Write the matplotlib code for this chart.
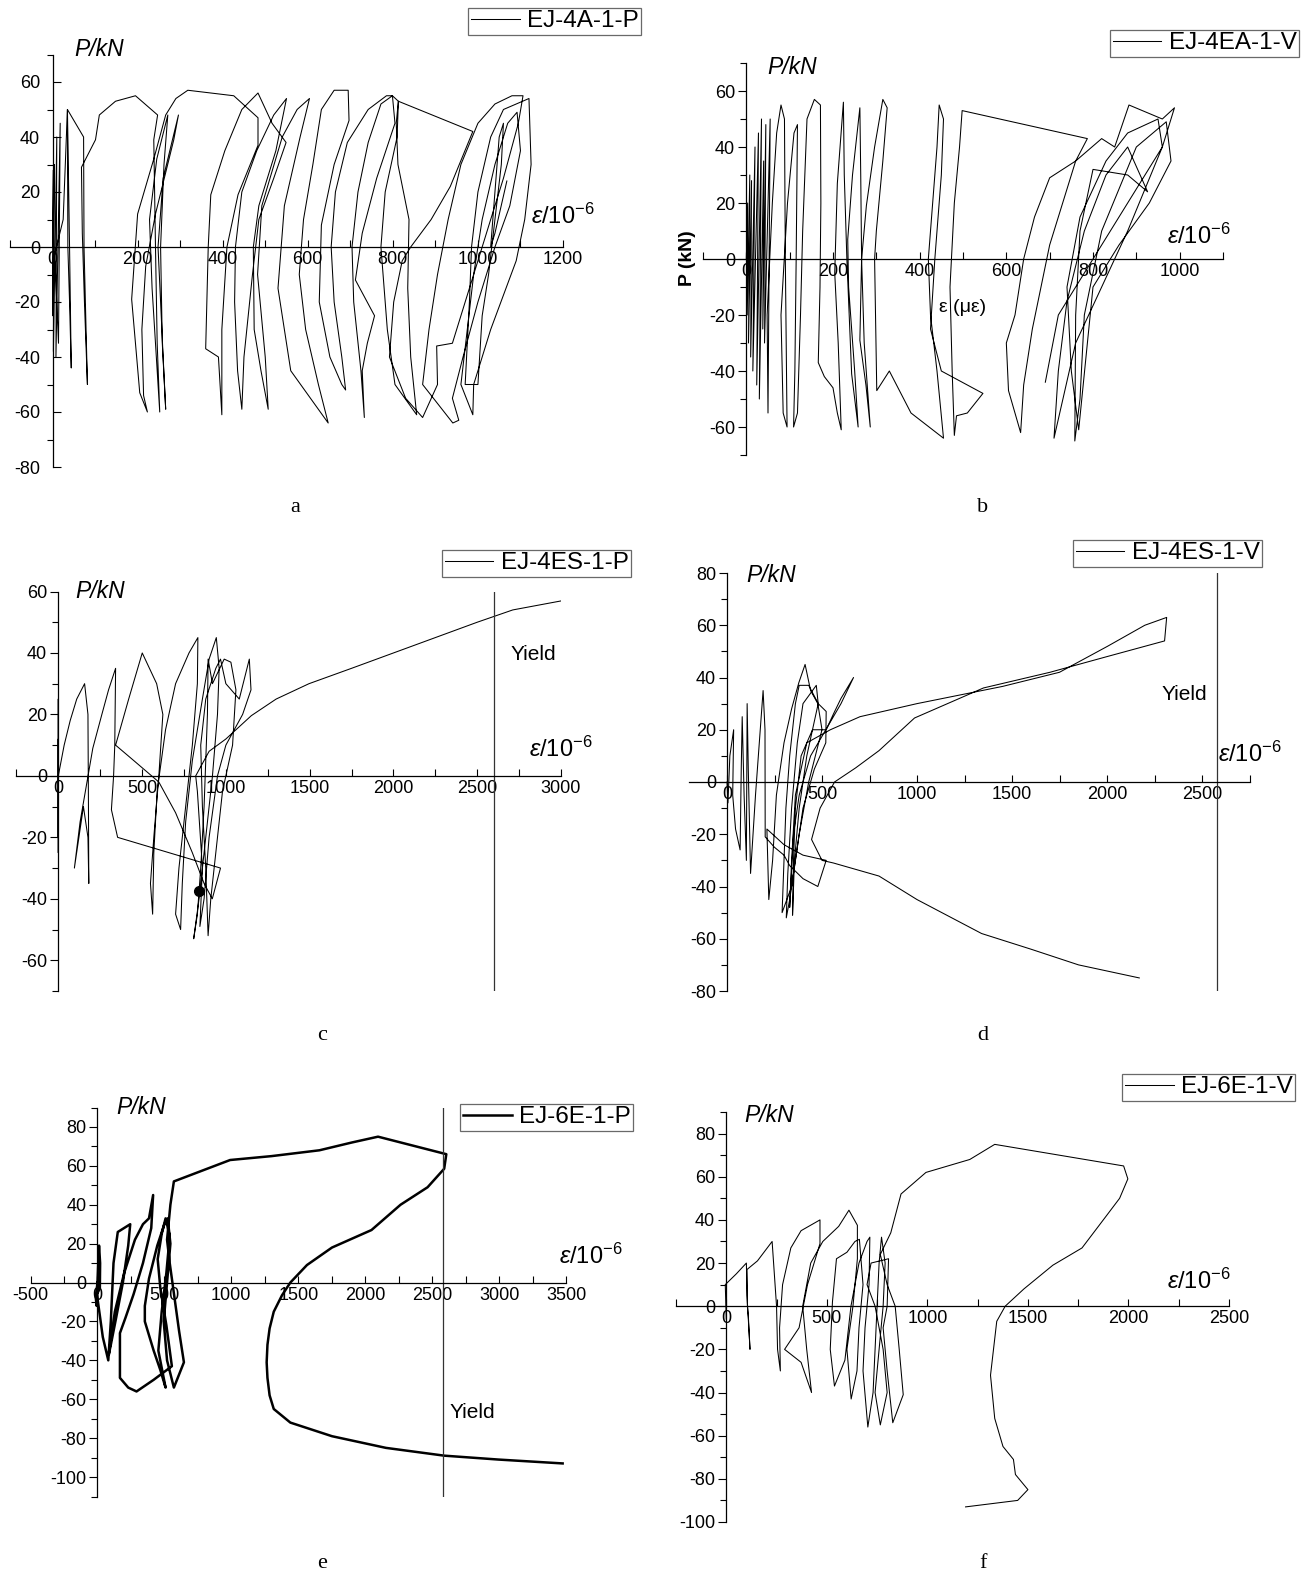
import matplotlib
matplotlib.use('Agg')
import matplotlib.pyplot as plt
from matplotlib.ticker import MultipleLocator

W, H = 1305, 1576
plt.rcParams['font.family'] = ['Liberation Sans', 'DejaVu Sans']
plt.rcParams['mathtext.fontset'] = 'custom'
plt.rcParams['mathtext.rm'] = 'Liberation Sans'
plt.rcParams['mathtext.it'] = 'Liberation Sans:italic'
plt.rcParams['axes.unicode_minus'] = False

# ---------------- data (strain in 1e-6, load in kN) ----------------
A_PTS = [(0,0),(2,28),(0,-25),(4,30),(2,-38),(10,40),(8,-40),(18,45),(14,-35),(6,-6),(3,-4),
         (25,10),(35,50),(40,0),(44,-44),(40,-20),(36,0),(35,50),(73,40),(74,0),(82,-50),
         (75,-20),(70,5),(68,29),(101,39),(110,48),(148,53),(195,55),(247,48),(238,39),(242,0),(246,-35),(252,-60),
         (244,-40),(234,-15),(228,10),(245,32),(271,48),(262,30),(254,0),(258,-35),(266,-59),
         (260,-40),(248,0),(260,25),(296,48),(285,39),(242,12),(219,-7),(210,-30),(214,-54),(223,-60),
         (205,-53),(186,-19),(200,12),(238,32),(266,48),(290,54),(318,57),(426,55),(483,47),(483,37),(436,19),(410,0),(398,-30),(398,-61),
         (390,-40),(360,-37),(366,0),(372,19),(405,35),(445,50),(483,56),(516,45),(549,38),(520,25),(485,10),(470,-10),(450,-40),(445,-59),
         (435,-45),(428,-20),(430,0),(445,20),(480,35),(520,48),(550,54),(525,35),(485,15),(472,0),(474,-30),(490,-45),(507,-59),
         (500,-40),(482,-10),(492,15),(540,40),(575,50),(604,54),(582,40),(545,15),(530,-15),(560,-45),(648,-64),
         (625,-50),(595,-30),(580,-10),(590,10),(612,30),(632,50),(662,57),(695,57),(697,46),(662,30),(632,8),(627,-20),(652,-40),(680,-50),(689,-52),
         (680,-40),(662,-20),(655,0),(665,20),(693,38),(742,50),(785,55),(799,55),(805,45),(762,25),(728,5),(712,-12),(757,-25),(740,-35),(728,-45),(733,-62),
         (725,-45),(708,-20),(704,0),(718,20),(742,38),(772,52),(799,55),(813,53),(810,40),(782,20),(772,0),(787,-30),(805,-50),(856,-61),
         (842,-40),(835,-15),(838,10),(812,30),(808,45),(813,53),(988,42),(935,22),(890,10),(842,0),(822,-5),(802,-20),(792,-40),(830,-55),
         (870,-62),(905,-50),(903,-36),(940,-35),(980,-15),(1020,5),(1060,25),(1095,45),(1106,55),(1080,55),(1040,52),(1000,45),(960,30),
         (930,10),(905,-10),(885,-30),(870,-50),(941,-64),(955,-63),(940,-55),(965,-40),(1000,-20),(1040,0),(1075,15),(1100,35),(1092,49),
         (1070,45),(1040,30),(1010,10),(990,-10),(975,-30),(960,-50),(988,-61),(990,-50),(1030,-30),(1090,-5),(1110,10),(1125,30),(1120,54),
         (1060,50),(1030,40),(1000,20),(985,0),(980,-20),(970,-50),(1000,-50),(1010,-25),(1025,-10),(1040,10),(1055,30),(1060,45),
         (1050,40),(1040,20),(1030,0),(1040,5),(1068,24)]

B_PTS = [(0,0),(3,20),(2,-20),(8,30),(5,-30),(12,28),(10,-35),(20,40),(15,-40),(28,45),(24,-45),(35,50),(30,-50),(40,35),
         (38,-25),(45,48),(42,-30),(55,50),(50,-55),(48,-20),(60,20),(70,45),(80,55),(88,50),(90,0),(94,-60),(85,-55),(80,-20),
         (95,20),(110,45),(118,48),(115,0),(112,-40),(109,-60),(118,-55),(125,-20),(130,10),(135,30),(140,50),(157,57),(171,55),
         (172,20),(170,-10),(166,-37),(180,-42),(200,-46),(210,-55),(219,-61),(212,-30),(204,-5),(210,27),(224,56),(226,30),
         (232,0),(243,-41),(258,-60),(250,-40),(236,-10),(234,7),(245,30),(262,54),(264,30),(266,0),(272,-30),(286,-60),
         (276,-45),(262,-29),(266,0),(277,19),(296,40),(315,57),(325,54),(315,35),(300,10),(296,0),(301,-47),(330,-40),
         (380,-55),(455,-64),(440,-40),(425,-20),(420,0),(430,20),(440,40),(445,55),(455,50),(450,30),(435,0),(425,-25),(450,-40),
         (546,-48),(510,-55),(485,-56),(480,-63),(475,-40),(470,-10),(480,20),(492,40),(498,53),(787,43),(760,35),(700,29),
         (665,15),(640,0),(620,-20),(600,-30),(605,-47),(633,-62),(640,-45),(660,-25),(680,-10),(700,5),(730,20),(760,35),
         (820,43),(850,40),(883,55),(960,50),(988,54),(960,40),(920,25),(880,10),(820,-10),(760,-30),(710,-64),(720,-40),
         (740,-15),(780,10),(830,30),(880,40),(926,24),(880,30),(800,32),(770,10),(760,-20),(758,-65),(770,-50),(780,-20),
         (820,10),(900,40),(969,49),(980,35),(930,20),(860,5),(800,-10),(767,-61),(750,-40),(740,-10),(770,15),(830,35),
         (880,45),(950,50),(960,40),(900,25),(800,0),(720,-20),(690,-44)]

C_PTS = [(0,0),(0,25),(0,-25),(0,12),(0,-20),(0,0),(35,10),(71,18),(110,25),(157,30),(177,20),(180,-10),(182,-35),(177,-20),
         (150,-10),(96,-30),(130,-15),(206,9),(260,20),(300,28),(342,35),(337,10),(330,0),(317,-11),(354,-20),(968,-30),(919,-40),
         (870,-35),(800,-25),(700,-12),(600,-2),(450,5),(342,10),(420,25),(501,40),(587,30),(624,20),(600,0),(570,-20),(550,-35),
         (563,-45),(570,-25),(590,-5),(640,15),(700,30),(780,40),(833,45),(830,30),(800,10),(760,-10),(720,-30),(700,-45),(730,-50),
         (740,-35),(760,-15),(800,5),(860,25),(900,38),(943,45),(960,35),(950,20),(920,0),(880,-20),(840,-40),(808,-53),(830,-45),
         (850,-30),(870,-10),(890,20),(894,38),(920,30),(990,38),(1030,37),(1060,28),(1040,10),(980,-5),(940,-25),(910,-40),(894,-52),
         (880,-30),(860,-10),(850,10),(880,25),(940,35),(968,38),(1000,30),(1080,25),(1140,38),(1150,28),(1100,20),(1000,10),(950,0),
         (900,-20),(870,-40),(845,-49),(860,-30),(830,-5),(820,0),(900,8),(1000,12),(1152,19.6),(1300,25),(1496,30),(1750,35),
         (2000,40),(2250,45),(2500,50),(2712,54),(3007,57)]
C_MARK = (840, -37.3)

D_PTS = [(0,0),(5,-8),(15,10),(35,20),(30,-5),(45,-18),(69,-26),(75,5),(80,25),(90,-5),(102,-30),(106,30),(112,5),(124,-35),
         (150,-5),(190,35),(200,20),(201,-21),(250,-25),(300,-28),(330,-32),(400,-37),(478,-40),(522,-30),(400,-28),(300,-24),
         (210,-18),(220,-45),(240,-30),(260,-5),(300,15),(340,28),(378,38),(411,45),(440,35),(478,30),(500,20),(430,0),(380,-20),
         (340,-40),(290,-50),(300,-30),(310,-10),(330,10),(360,30),(380,37),(430,37),(480,30),(522,27),(520,15),(460,5),(400,-10),
         (360,-30),(330,-45),(312,-52),(320,-35),(340,-10),(370,15),(400,30),(470,37),(480,30),(420,10),(380,-10),(355,-30),(345,-51),
         (350,-30),(360,-10),(390,10),(450,20),(522,20),(560,26),(600,32),(666,40),(600,30),(520,20),(440,10),(380,-5),(350,-20),
         (330,-48),(340,-30),(360,-5),(420,15),(544,20),(700,25),(1000,30),(1451,36.6),(1750,42),(2004,52),(2199,60),(2314,63),
         (2303,54),(2000,48),(1700,42),(1350,36),(987,24.5),(800,12),(677,5.4),(566,0),(490,-10),(445,-22),(500,-30),(560,-31),
         (800,-36),(1000,-45),(1340,-58),(1600,-64),(1850,-70),(2170,-75)]

E_PTS = [(0,0),(-12,-8),(-6,-12),(5,8),(12,19),(20,10),(18,-3),(-4,-6),
         (40,-28),(81,-40),(100,-20),(120,10),(152,26),(245,30),(230,19),(190,0),(140,-18),(100,-32),(85,-37),
         (130,-15),(200,5),(280,22),(340,30),(385,33),(416,45),(402,28),(340,10),(270,-6),(210,-18),(168,-26),(168,-49),
         (230,-54),(292,-56),(420,-50),(556,-43),(515,-22),(470,-3),(450,12),(480,25),(509,33),(540,24),(515,5),(480,-15),
         (455,-35),(509,-54),(470,-45),(420,-35),(354,-20),(354,-12),(385,2),(447,19),(500,30),(525,33),(545,20),(520,0),
         (495,-20),(520,-40),(571,-54),(646,-41),(610,-25),(570,-5),(540,10),(520,22),(545,40),(571,52),(991,63),(1300,65),
         (1658,68),(1900,72),(2096,75),(2606,66),(2590,58.5),(2466,49),(2264,40),(2047,27),(1752,18),(1565,9),(1441,0),
         (1379,-6.5),(1317,-15),(1286,-23.6),(1270,-32),(1264,-41),(1270,-49),(1286,-58),(1317,-65),(1441,-72),(1752,-79),
         (2155,-85),(2590,-89),(2994,-91),(3475,-93)]

F_PTS = [(0,-6),(-5,10),(50,15),(100,20),(103,5),(118,-20),(110,-5),(105,0),(103,17),(155,21),(228,30),(250,0),(255,-20),
         (269,-30),(265,-10),(280,10),(321,27),(372,35),(466,40),(466,29),(404,10),(362,-10),(290,-20),(372,-26),(424,-40),
         (400,-20),(380,0),(420,20),(480,30),(559,37),(610,44.5),(652,37.5),(652,22),(630,0),(600,-20),(621,-43),(650,-30),
         (660,-10),(680,10),(662,31),(640,30),(600,25),(548,22),(528,2),(517,-20),(538,-37),(590,-25),(620,0),(660,20),(700,30),
         (714,32),(710,10),(690,-10),(680,-30),(704,-56),(730,-40),(740,-20),(750,0),(760,20),(772,32),(790,20),(780,0),(760,-20),
         (740,-40),(766,-55),(800,-40),(780,-20),(740,0),(700,10),(720,20),(807,22),(800,0),(780,-10),(800,-30),(828,-54),(880,-41),
         (860,-20),(840,0),(800,10),(766,24),(818,34),(869,52),(993,62),(1211,68),(1335,75),(1976,65),(1997,59),(1956,50),(1883,41),
         (1769,27),(1624,19),(1480,8),(1387,0),(1345,-7),(1314,-32),(1335,-52),(1376,-65),(1428,-71),(1438,-78),(1500,-85),
         (1449,-90),(1190,-93)]

LABELS = ['EJ-4A-1-P', 'EJ-4EA-1-V', 'EJ-4ES-1-P', 'EJ-4ES-1-V', 'EJ-6E-1-P', 'EJ-6E-1-V']
CAPTIONS = ['a', 'b', 'c', 'd', 'e', 'f']
YIELD = {'c': 2600, 'd': 2580, 'e': 2580}

fig = plt.figure(figsize=(W / 100, H / 100), dpi=100)


def ftext(x, y, s, **kw):
    return fig.text(x / W, 1 - y / H, s, **kw)


def make_panel(box, xlim, ylim, xticks, xminor, yticks, yminor, ymajdir='out'):
    l, r, t, b = box
    ax = fig.add_axes([l / W, 1 - b / H, (r - l) / W, (b - t) / H])
    ax.set_xlim(*xlim)
    ax.set_ylim(*ylim)
    ax.patch.set_visible(False)
    for s in ('top', 'right'):
        ax.spines[s].set_visible(False)
    ax.spines['left'].set_position(('data', 0))
    ax.spines['bottom'].set_position(('data', 0))
    for s in ('left', 'bottom'):
        ax.spines[s].set_linewidth(0.9)
    ax.set_xticks(xticks)
    ax.set_yticks(yticks)
    ax.xaxis.set_minor_locator(MultipleLocator(xminor))
    ax.yaxis.set_minor_locator(MultipleLocator(yminor))
    ax.tick_params(axis='x', which='major', direction='in', length=5, width=0.8, labelsize=13, pad=3)
    ax.tick_params(axis='x', which='minor', direction='in', length=5, width=0.8)
    ax.tick_params(axis='y', which='major', direction=ymajdir, length=6, width=0.8, labelsize=13,
                   pad=2 if ymajdir == 'out' else 9)
    ax.tick_params(axis='y', which='minor', direction='out', length=4, width=0.8)
    return ax


def add_legend(ax, right, top):
    leg = ax.legend(loc='upper right', bbox_to_anchor=(right / W, 1 - top / H),
                    bbox_transform=fig.transFigure, fontsize=17.5, frameon=True, fancybox=False,
                    borderpad=0.1, borderaxespad=0, handlelength=2.0, handletextpad=0.3)
    leg.get_frame().set_edgecolor('#444444')
    leg.get_frame().set_linewidth(0.9)
    return leg


def axis_labels(px, py, ex, ey):
    ftext(px, py, 'P/kN', fontsize=16.5, style='italic', ha='center', va='center')
    ftext(ex, ey, r'$\mathit{ε/10}^{\mathit{-6}}$', fontsize=17, ha='center', va='center')


def xy(pts):
    return [p[0] for p in pts], [p[1] for p in pts]


LW = 0.75
ylab_ticks = lambda lo, hi: list(range(lo, hi + 1, 20))

# ---- panel a ----
ax = make_panel((10, 563, 54.5, 467), (-100, 1200), (-80, 70), range(0, 1201, 200), 100, ylab_ticks(-80, 60), 10,
                ymajdir='in')
x, y = xy(A_PTS)
ax.plot(x, y, color='k', lw=LW, label=LABELS[0])
add_legend(ax, 641, 8)
axis_labels(99, 50, 563, 216)
ftext(295, 508, CAPTIONS[0], family='Liberation Serif', fontsize=16, ha='center', va='center')

# ---- panel b ----
ax = make_panel((703, 1223, 63, 455), (-100, 1100), (-70, 70), range(0, 1001, 200), 100, ylab_ticks(-60, 60), 10)
x, y = xy(B_PTS)
ax.plot(x, y, color='k', lw=LW, label=LABELS[1])
add_legend(ax, 1299, 30)
axis_labels(792, 68, 1199, 236)
ftext(687, 258, 'P (kN)', fontsize=14, weight='bold', rotation=90, ha='center', va='center')
ftext(963, 308, 'ε (με)', fontsize=14, ha='center', va='center')
ftext(983, 508, CAPTIONS[1], family='Liberation Serif', fontsize=16, ha='center', va='center')

# ---- panel c ----
ax = make_panel((16.4, 561, 591.5, 991), (-250, 3000), (-70, 60), range(0, 3001, 500), 250, ylab_ticks(-60, 60), 10)
x, y = xy(C_PTS)
ax.plot(x, y, color='k', lw=LW, label=LABELS[2])
ax.plot([C_MARK[0]], [C_MARK[1]], 'o', color='k', ms=7)
ax.axvline(YIELD['c'], color='#333333', lw=0.9)
add_legend(ax, 631, 550)
axis_labels(100, 591, 561, 749)
ftext(533, 654, 'Yield', fontsize=15, ha='center', va='center')
ftext(322, 1036, CAPTIONS[2], family='Liberation Serif', fontsize=16, ha='center', va='center')

# ---- panel d ----
ax = make_panel((689, 1249.5, 573, 991), (-200, 2750), (-80, 80), range(0, 2501, 500), 250, ylab_ticks(-80, 80), 10)
x, y = xy(D_PTS)
ax.plot(x, y, color='k', lw=LW, label=LABELS[3])
ax.axvline(YIELD['d'], color='#333333', lw=0.9)
add_legend(ax, 1262, 540)
axis_labels(771, 576, 1250, 754)
ftext(1184, 695, 'Yield', fontsize=15, ha='center', va='center')
ftext(983, 1036, CAPTIONS[3], family='Liberation Serif', fontsize=16, ha='center', va='center')

# ---- panel e ----
ax = make_panel((30.5, 566, 1107.5, 1496.5), (-500, 3500), (-110, 90), range(-500, 3501, 500), 250, ylab_ticks(-100, 80), 10)
x, y = xy(E_PTS)
ax.plot(x, y, color='k', lw=1.8, label=LABELS[4])
ax.axvline(YIELD['e'], color='#333333', lw=0.9)
add_legend(ax, 633, 1104)
axis_labels(141, 1108, 591, 1256)
ftext(472, 1412, 'Yield', fontsize=15, ha='center', va='center')
ftext(322, 1563, CAPTIONS[4], family='Liberation Serif', fontsize=16, ha='center', va='center')

# ---- panel f ----
ax = make_panel((676, 1229, 1112, 1522), (-250, 2500), (-100, 90), range(0, 2501, 500), 250, ylab_ticks(-100, 80), 10)
x, y = xy(F_PTS)
ax.plot(x, y, color='k', lw=LW, label=LABELS[5])
add_legend(ax, 1295, 1074)
axis_labels(769, 1116, 1199, 1281)
ftext(983, 1563, CAPTIONS[5], family='Liberation Serif', fontsize=16, ha='center', va='center')

fig.savefig('out.png', dpi=100)
